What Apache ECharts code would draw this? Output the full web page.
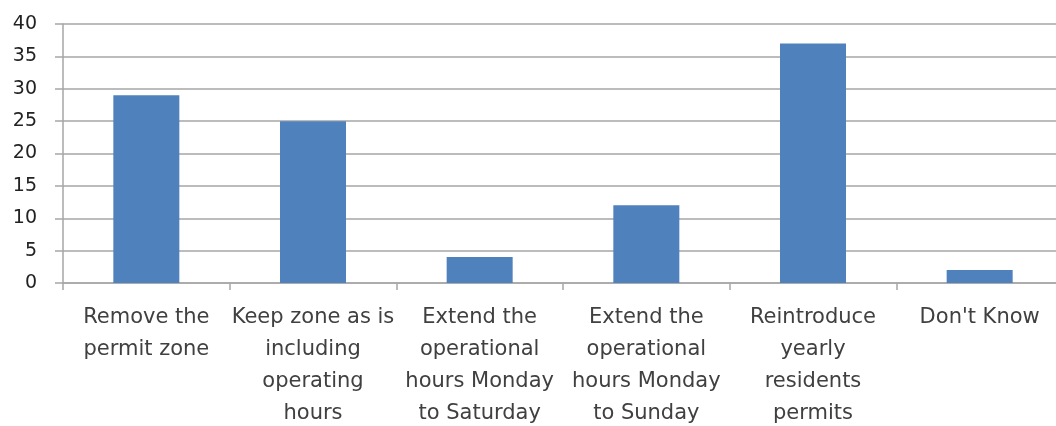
<!DOCTYPE html>
<html>
<head>
<meta charset="utf-8">
<script src="https://cdn.jsdelivr.net/npm/echarts@6/dist/echarts.min.js"></script>
<style>
  html, body { margin: 0; padding: 0; background: #fff; }
  #chart { width: 1056px; height: 426px; }
</style>
</head>
<body>
<div id="chart"></div>
<script>
// category labels, with the line breaks used in the original
const categories = [
  'Remove the\npermit zone',
  'Keep zone as is\nincluding\noperating\nhours',
  'Extend the\noperational\nhours Monday\nto Saturday',
  'Extend the\noperational\nhours Monday\nto Sunday',
  'Reintroduce\nyearly\nresidents\npermits',
  "Don't Know"
]
const responses = [29, 25, 4, 12, 37, 2]
const yTicks = [0, 5, 10, 15, 20, 25, 30, 35, 40]

const chart = echarts.init(document.getElementById('chart'))
const grey = '#a6a6a6'

chart.setOption({
  animation: false,
  grid: {
    left: 63,
    top: 24,
    bottom: 143,
    width: 1000,
    outerBoundsMode: 'none' // plot runs past the right edge, like the original
  },
  xAxis: {
    type: 'category',
    data: categories,
    axisLine: { lineStyle: { color: grey, width: 1.5 } },
    axisTick: { show: true, length: 7, interval: 0, lineStyle: { color: grey, width: 1.5 } },
    axisLabel: {
      interval: 0,
      margin: 19,
      fontFamily: 'DejaVu Sans',
      fontSize: 21,
      lineHeight: 32,
      color: '#404040',
      align: 'center'
    }
  },
  yAxis: {
    type: 'value',
    min: yTicks[0],
    max: yTicks[yTicks.length - 1],
    interval: 5,
    axisLine: { show: true, lineStyle: { color: grey, width: 1.5 } },
    axisTick: { show: true, length: 8, lineStyle: { color: grey, width: 1.5 } },
    splitLine: { lineStyle: { color: grey, width: 1.5 } },
    axisLabel: {
      margin: 26,
      fontFamily: 'DejaVu Sans',
      fontSize: 19,
      color: '#222'
    }
  },
  series: [
    {
      type: 'bar',
      data: responses,
      barWidth: 66,
      itemStyle: { color: '#4f81bd' }
    }
  ]
})
</script>
</body>
</html>
